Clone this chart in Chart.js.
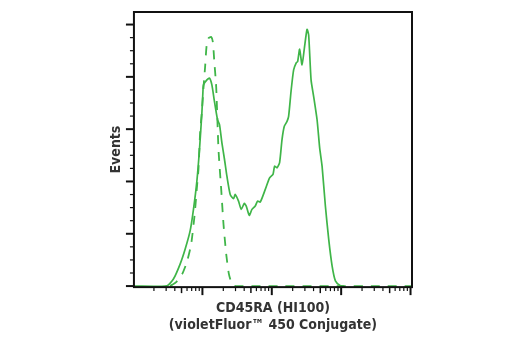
<!DOCTYPE html>
<html>
<head>
<meta charset="utf-8">
<script src="https://cdn.jsdelivr.net/npm/chart.js@4.4.1/dist/chart.umd.min.js"></script>
<style>
  html, body { margin: 0; padding: 0; background: #fff; }
  #wrap { width: 520px; height: 350px; }
</style>
</head>
<body>
<div id="wrap"><canvas id="histChart"></canvas></div>
<script>
// Stained sample (solid)
const solidX = [10.3, 30.7, 38.2, 47.7, 56.3, 66.5, 74.3, 83.2, 90.7, 98.2, 101.5, 103.6, 116, 126.4, 136.9,
    147.8, 165, 176.3, 190.9, 208.2, 225.5, 251.6, 280.8, 297.2, 331.6, 362.7, 400.8, 428.4, 473.3, 517.8,
    577.8, 623.6, 682.2, 805.5, 929.5, 1041, 1098, 1189, 1296, 1404, 1515, 1658, 1748, 1894, 2065, 2259,
    2359, 2520, 2730, 2947, 3223, 3400, 3683, 4014, 4495, 4901, 5308, 5923, 6611, 7402, 8260, 9754, 11000];
const solidY = [0, 0.3, 6.7, 21, 35.2, 52.7, 73.3, 100.3, 130.5, 165.4, 184.5, 192.4, 197.1, 198.8, 192.4,
    178.1, 159, 154.3, 136.9, 121, 105, 87.6, 83.5, 87.6, 81.2, 73.3, 79, 76.5, 67.6, 73.3,
    76.5, 81.2, 80.3, 92.4, 103.5, 106.7, 114.6, 113, 118.1, 140, 152.7, 157.4, 162.2, 186, 206.7, 213.6,
    214.6, 226.4, 211.4, 227.3, 245.4, 240, 197.1, 181.2, 159, 132.1, 114.6, 76.5, 44.8, 19.3, 5, 0.3, 0];

// Isotype control (dashed)
const controlX = [34.2, 41.8, 51, 60.2, 68.8, 77.3, 84, 87.7, 92.8, 98.2, 103.6, 109.6, 115.2, 123.1, 133.8,
    141.6, 147.8, 157.9, 170.5, 186.6, 201.4, 220.3, 239.4, 260.2, 287.4, 350.9, 105000];
const controlY = [0, 3.8, 11.4, 23.8, 40, 68.6, 97.1, 111.4, 147.6, 166.7, 189.5, 210.5, 230.5, 237.1, 238.1,
    233.3, 216.2, 190.5, 130.5, 92.4, 59, 30.5, 12.4, 3.8, 0.3, 0, 0];

// Axis tick marks
const yMajorTicks = [0, 50, 100, 150, 200, 250];
const yMinorTicks = [12.5, 25, 37.5, 62.5, 75, 87.5, 112.5, 125, 137.5, 162.5, 175, 187.5, 212.5, 225, 237.5];
const xDecades = [10, 100, 1000, 10000, 100000];
const xMultiples = [2, 3, 4, 5, 6, 7, 8, 9];

const green = '#3fb548';
const fontFamily = "'Liberation Sans Narrow', 'DejaVu Sans Condensed', sans-serif";

const toPoints = (xs, ys) => xs.map((x, i) => ({ x: x, y: ys[i] }));

// Frame and tick marks drawn from the scales
const frameTicks = {
    id: 'frameTicks',
    afterDatasetsDraw(chart) {
        const { ctx, chartArea: a, scales: { x, y } } = chart;
        ctx.save();
        ctx.strokeStyle = '#111';

        yMajorTicks.forEach(v => {
            const py = y.getPixelForValue(v);
            ctx.lineWidth = 2;
            ctx.beginPath(); ctx.moveTo(a.left - 8, py); ctx.lineTo(a.left, py); ctx.stroke();
        });
        yMinorTicks.forEach(v => {
            const py = y.getPixelForValue(v);
            ctx.lineWidth = 1.2;
            ctx.beginPath(); ctx.moveTo(a.left - 4, py); ctx.lineTo(a.left, py); ctx.stroke();
        });

        xDecades.forEach(d => {
            if (d >= x.min && d <= x.max) {
                const px = x.getPixelForValue(d);
                ctx.lineWidth = 2;
                ctx.beginPath(); ctx.moveTo(px, a.bottom); ctx.lineTo(px, a.bottom + 8); ctx.stroke();
            }
            xMultiples.forEach(m => {
                const v = d * m;
                if (v < x.min || v > x.max) return;
                const px = x.getPixelForValue(v);
                ctx.lineWidth = m === 5 ? 1.5 : 1.2;
                ctx.beginPath(); ctx.moveTo(px, a.bottom); ctx.lineTo(px, a.bottom + (m === 5 ? 6 : 4)); ctx.stroke();
            });
        });

        ctx.lineWidth = 2;
        ctx.strokeRect(a.left, a.top, a.right - a.left, a.bottom - a.top);
        ctx.restore();
    }
};

const ctx = document.getElementById('histChart').getContext('2d');
new Chart(ctx, {
    type: 'line',
    data: {
        datasets: [{
            label: 'CD45RA',
            data: toPoints(solidX, solidY),
            borderColor: green,
            borderWidth: 1.7,
            pointRadius: 0,
            tension: 0.2,
            fill: false
        }, {
            label: 'Control',
            data: toPoints(controlX, controlY),
            borderColor: green,
            borderWidth: 1.8,
            borderDash: [9, 8],
            pointRadius: 0,
            tension: 0.2,
            fill: false
        }]
    },
    options: {
        responsive: true,
        maintainAspectRatio: false,
        animation: false,
        layout: {
            padding: { left: 104, right: 108, top: 12, bottom: 12 }
        },
        scales: {
            x: {
                type: 'logarithmic',
                min: 10.3,
                max: 105000,
                grid: { display: false, drawTicks: false },
                border: { display: false },
                ticks: { display: false },
                title: {
                    display: true,
                    text: ['CD45RA (HI100)', '(violetFluor™ 450 Conjugate)'],
                    color: '#333',
                    font: { family: fontFamily, size: 14, weight: 'bold', lineHeight: 1.21 },
                    padding: { top: 13, bottom: 4 }
                }
            },
            y: {
                min: -1,
                max: 262,
                grid: { display: false, drawTicks: false },
                border: { display: false },
                ticks: { display: false },
                title: {
                    display: true,
                    text: 'Events',
                    color: '#333',
                    font: { family: fontFamily, size: 14, weight: 'bold', lineHeight: 1.21 },
                    padding: { top: 4, bottom: 9 }
                }
            }
        },
        plugins: {
            legend: { display: false },
            tooltip: { enabled: false }
        }
    },
    plugins: [frameTicks]
});
</script>
</body>
</html>
